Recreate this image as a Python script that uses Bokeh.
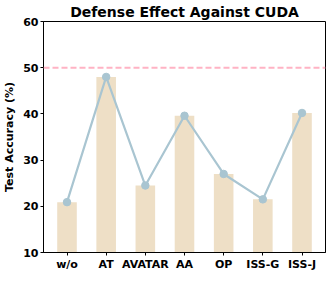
from bokeh.plotting import figure
from bokeh.models import Range1d, FixedTicker, Span, ColumnDataSource
from bokeh.embed import file_html
from bokeh.resources import INLINE

categories = ["w/o", "AT", "AVATAR", "AA", "OP", "ISS-G", "ISS-J"]
accuracy = [20.9, 48.0, 24.5, 39.6, 27.0, 21.5, 40.2]
baseline = 50
y_ticks = [10, 20, 30, 40, 50, 60]

xs = list(range(len(categories)))
src = ColumnDataSource(dict(x=xs, y=accuracy, cat=categories))

p = figure(width=328, height=273, output_backend="svg", toolbar_location=None,
           x_range=Range1d(-0.6, 6.6), y_range=Range1d(10, 60),
           title="Defense Effect Against CUDA",
           min_border_left=0, min_border_right=3, min_border_top=0, min_border_bottom=0)

p.title.text_font = "DejaVu Sans"
p.title.text_font_style = "bold"
p.title.text_font_size = "14px"
p.title.text_color = "black"
p.title.align = "center"
p.title.offset = 0
p.title.standoff = 3

p.vbar(x="x", top="y", bottom=10, width=0.5, source=src,
       fill_color="#EEDFC6", line_color=None)
p.line(x="x", y="y", source=src, line_color="#A9C5D1", line_width=2.2)
p.scatter(x="x", y="y", source=src, size=7.5, fill_color="#A9C5D1", line_color="#A9C5D1")

p.add_layout(Span(location=baseline, dimension="width", line_color="#FFB3C4",
                  line_dash="6 3", line_width=2))

p.xgrid.visible = False
p.ygrid.visible = False
p.outline_line_color = "black"
p.outline_line_width = 1

p.xaxis.ticker = FixedTicker(ticks=xs)
p.xaxis.major_label_overrides = {i: c for i, c in enumerate(categories)}
p.yaxis.ticker = FixedTicker(ticks=y_ticks)
p.yaxis.axis_label = "Test Accuracy (%)"

for ax in (p.xaxis, p.yaxis):
    ax.major_label_text_font = "DejaVu Sans"
    ax.major_label_text_font_style = "bold"
    ax.major_label_text_font_size = "11px"
    ax.major_label_text_color = "black"
    ax.axis_label_text_font = "DejaVu Sans"
    ax.axis_label_text_font_style = "bold"
    ax.axis_label_text_font_size = "11px"
    ax.axis_label_text_color = "black"
    ax.minor_tick_line_color = None
    ax.major_tick_out = 3
    ax.major_tick_in = 0
    ax.axis_line_color = "black"
    ax.major_tick_line_color = "black"
    ax.major_label_standoff = 2

p.yaxis.axis_label_standoff = 4

open("out.html", "w").write(file_html(p, INLINE))
